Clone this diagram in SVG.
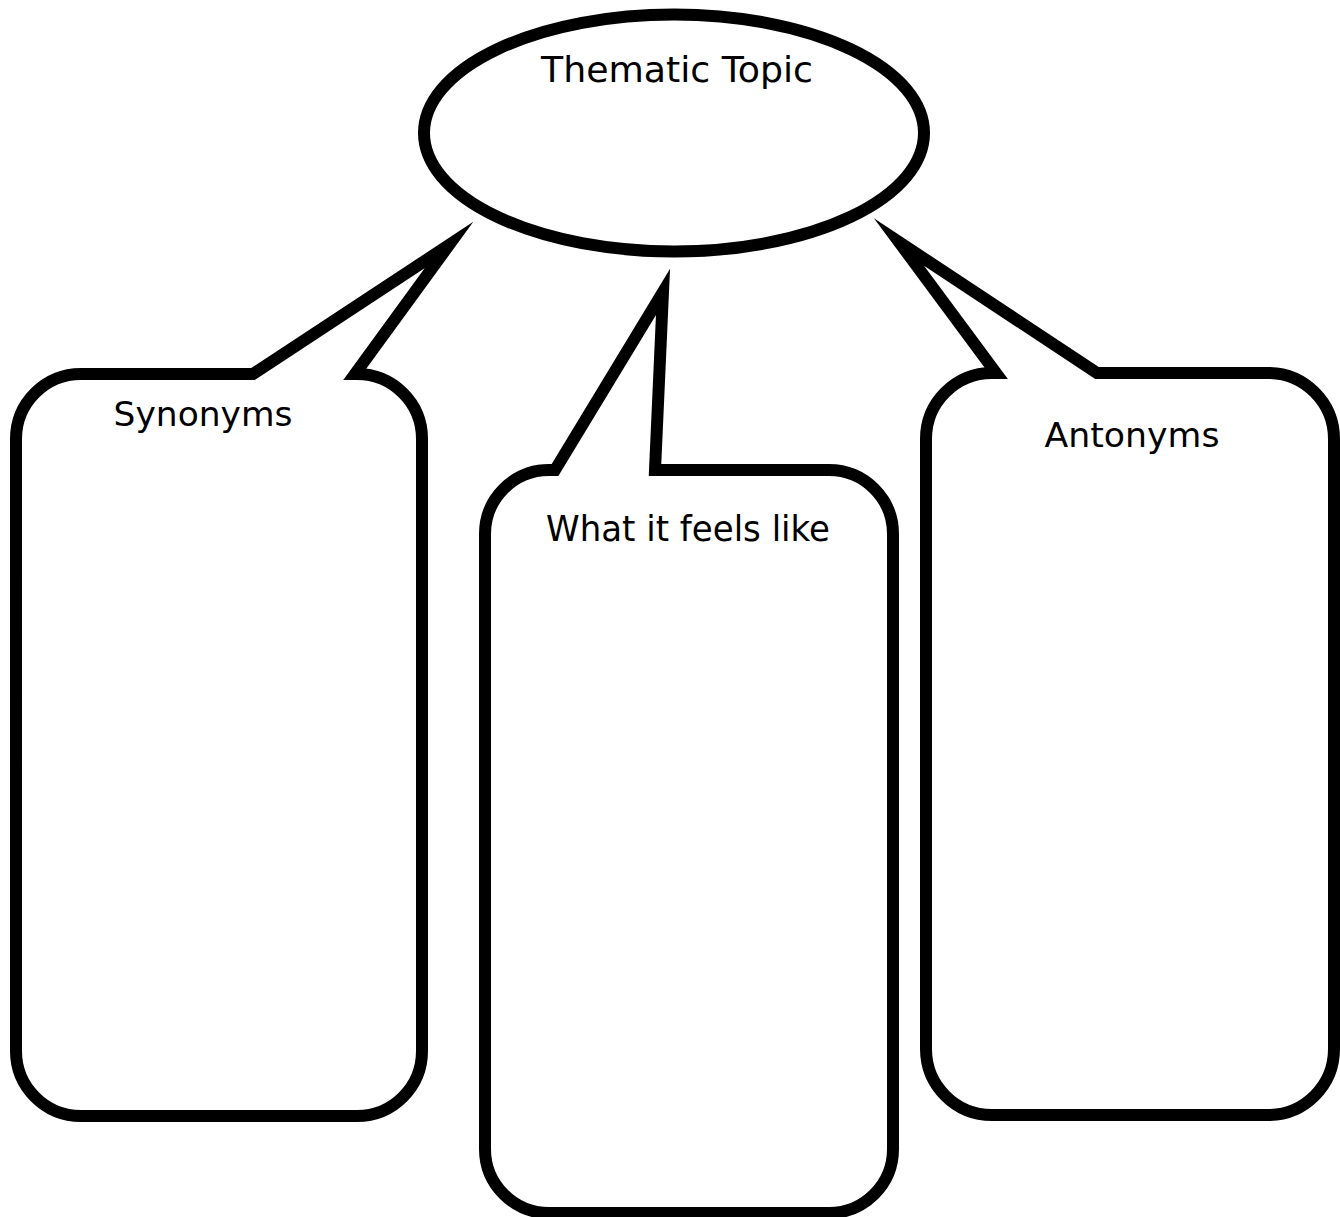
<svg xmlns="http://www.w3.org/2000/svg" width="1340" height="1217" viewBox="0 0 1340 1217">
<style>
.shape{fill:#ffffff;stroke:#000000;stroke-width:12;stroke-linejoin:miter;stroke-miterlimit:10}
.lbl{font-family:"DejaVu Sans","Liberation Sans",sans-serif;fill:#000000;text-anchor:middle}
</style>
<rect width="1340" height="1217" fill="#ffffff"/>
<g id="topic">
<ellipse class="shape" cx="674" cy="133" rx="250" ry="118.5"/>
<text class="lbl" x="677" y="82" font-size="36" textLength="272" lengthAdjust="spacingAndGlyphs">Thematic Topic</text>
</g>
<g id="synonyms">
<path class="shape" d="M16,439 A65,65 0 0 1 81,374 H253 L449,245 L355,374 H357 A65,65 0 0 1 422,439 V1051 A65,65 0 0 1 357,1116 H81 A65,65 0 0 1 16,1051 Z"/>
<text class="lbl" x="203" y="426" font-size="34" textLength="179" lengthAdjust="spacingAndGlyphs">Synonyms</text>
</g>
<g id="feels-like">
<path class="shape" d="M485,534 A64,64 0 0 1 549,470 H555 L663,292 L655,470 H829 A64,64 0 0 1 893,534 V1149 A64,64 0 0 1 829,1213 H549 A64,64 0 0 1 485,1149 Z"/>
<text class="lbl" x="688" y="541" font-size="35" textLength="284" lengthAdjust="spacingAndGlyphs">What it feels like</text>
</g>
<g id="antonyms">
<path class="shape" d="M926,439 A66,66 0 0 1 992,373 H996 L899,242 L1097,373 H1268 A66,66 0 0 1 1334,439 V1049 A66,66 0 0 1 1268,1115 H992 A66,66 0 0 1 926,1049 Z"/>
<text class="lbl" x="1132" y="447" font-size="34" textLength="175" lengthAdjust="spacingAndGlyphs">Antonyms</text>
</g>
</svg>
